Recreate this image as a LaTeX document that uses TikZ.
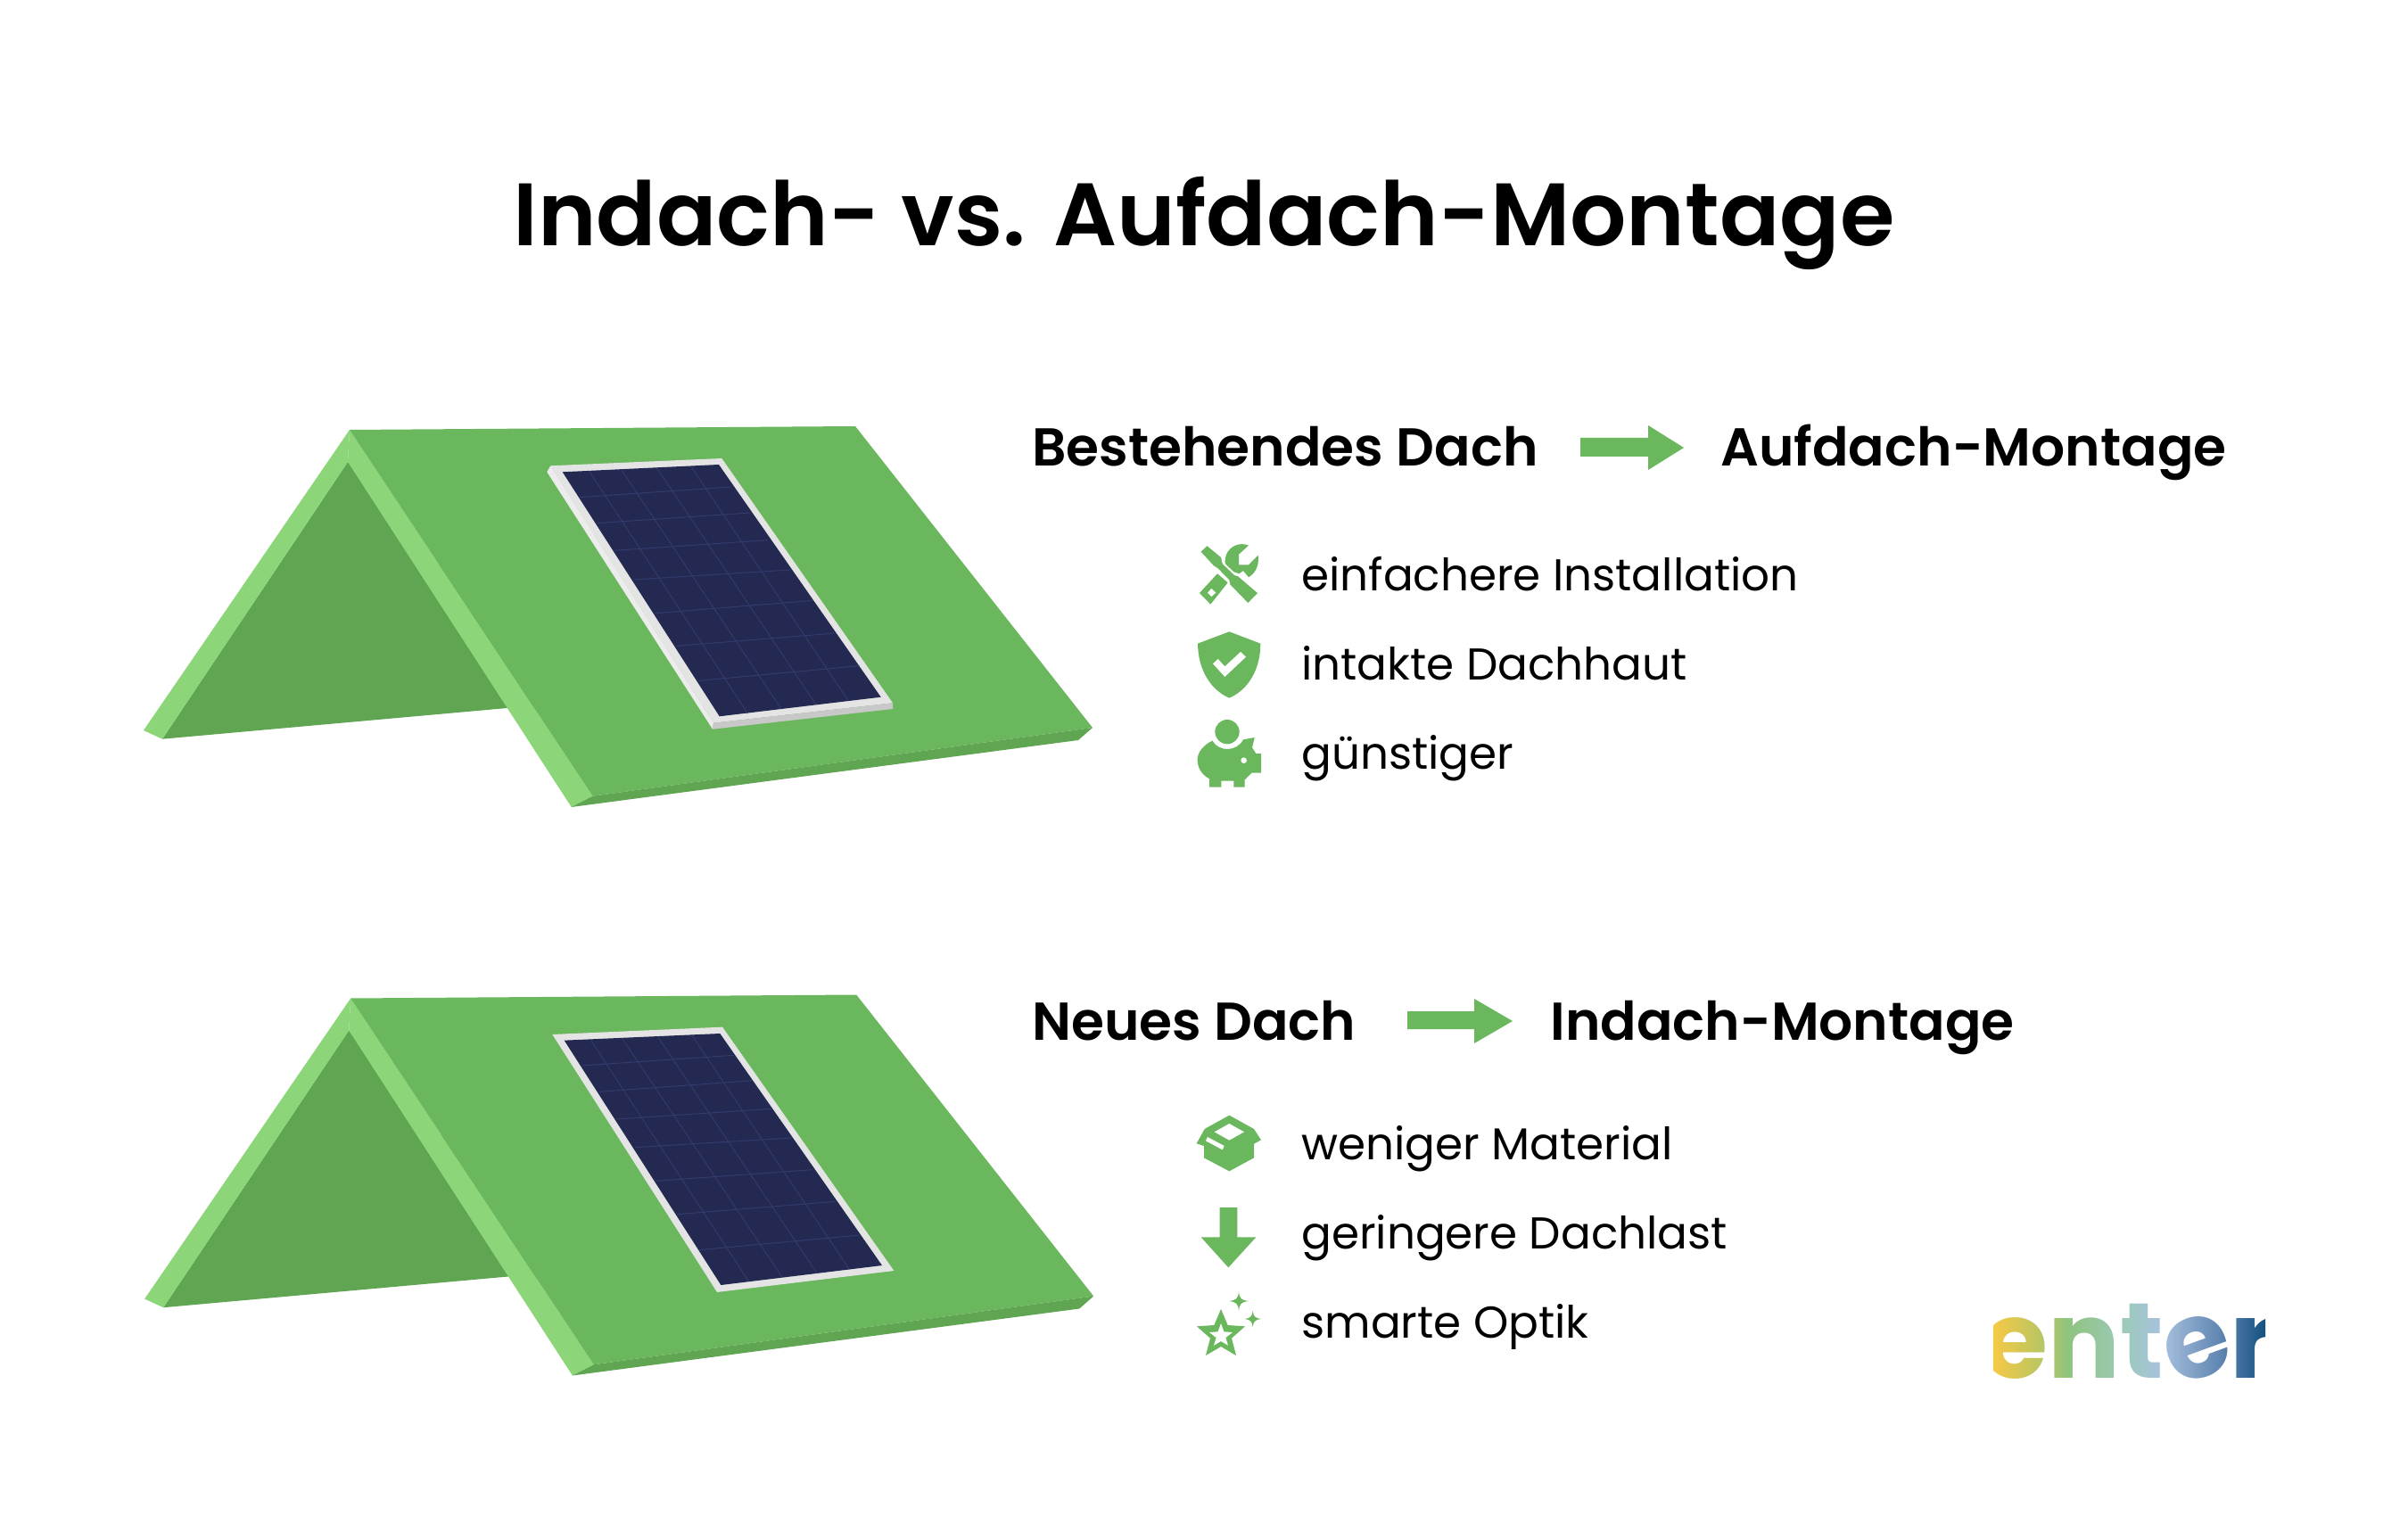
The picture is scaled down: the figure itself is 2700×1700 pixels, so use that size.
\documentclass[tikz,border=0pt]{standalone}
\usepackage{fontspec}
\usetikzlibrary{fadings}
\setmainfont{Poppins}
\newfontfamily\semib{Poppins SemiBold}
\newfontfamily\logob{Poppins Bold}
\definecolor{gmain}{HTML}{6BB75D}
\definecolor{glight}{HTML}{8CD679}
\definecolor{gdark}{HTML}{60A552}
\definecolor{pblue}{HTML}{232950}
\definecolor{pgrid}{HTML}{333B6C}
\definecolor{fr}{HTML}{E4E4E4}
\definecolor{frl}{HTML}{ECECEC}
\definecolor{frd}{HTML}{C8C8C8}
\definecolor{la}{HTML}{F6C945}
\definecolor{lb}{HTML}{A9C56A}
\definecolor{lc}{HTML}{8FC47E}
\definecolor{ld}{HTML}{9DC9BF}
\definecolor{le}{HTML}{A8C1DE}
\definecolor{lf}{HTML}{5D84B0}
\definecolor{lg}{HTML}{14517F}
\pgfdeclarehorizontalshading{logograd}{100bp}{
 color(0bp)=(la);color(25bp)=(la);color(36bp)=(lb);color(38.5bp)=(lc);color(50bp)=(ld);color(56bp)=(le);color(67bp)=(lf);color(75bp)=(lg);color(100bp)=(lg)}
\begin{tikzfadingfrompicture}[name=logofade]
\path (-100pt,-60pt) rectangle (100pt,60pt);
\node[transparent!0,anchor=base,inner sep=0,font=\fontsize{60}{60}\selectfont\logob] at (0,0) {ent\makebox[0.62em][c]{\rotatebox[origin=c]{20}{e}}r};
\end{tikzfadingfrompicture}
\tikzset{
 title/.style={anchor=base west,inner sep=0,font=\fontsize{49.7}{50}\selectfont\semib},
 head/.style={anchor=base west,inner sep=0,font=\fontsize{29.9}{30}\selectfont\semib},
 item/.style={anchor=base west,inner sep=0,font=\fontsize{25}{25}\selectfont},
 ic/.style={fill=gmain,draw=none},
 hole/.style={fill=white,draw=none},
 gridl/.style={draw=pgrid,line width=0.5pt},
 roofback/.style={fill=gdark},
 rooflight/.style={fill=glight},
 roofmain/.style={fill=gmain},
}
\begin{document}
\begin{tikzpicture}[x=0.5pt,y=-0.5pt]
\useasboundingbox (0,0) rectangle (2700,1700);
\fill[white] (0,0) rectangle (2700,1700);
\node[title] (t) at (575,275.5) {Indach- vs. Aufdach-Montage};
% roof 1
\fill[roofback] (390,518)--(182,828.7)--(568.6,794)--(640,800)--cycle;
\fill[rooflight] (392,482)--(161,819)--(182,828.7)--(390,518)--cycle;
\fill[rooflight] (392,482)--(390,518)--(640.7,905)--(664.6,892.7)--cycle;
\fill[roofmain] (392,482)--(959,478)--(1225,816)--(664.6,892.7)--cycle;
\fill[roofback] (664.6,892.7)--(1225,816)--(1209,830)--(640.7,905)--cycle;
% panel 1
\fill[fr] (617.3,522.3)--(809.3,514)--(1001,788.3)--(800,810.7)--cycle;
\fill[frl] (617.3,522.3)--(613.3,529.3)--(799,817.7)--(800,810.7)--cycle;
\fill[frd] (800,810.7)--(1001,788.3)--(1001,795)--(799,817.7)--cycle;
\fill[pblue] (630.7,529.3)--(806,521)--(987.7,781.7)--(806.7,803.3)--cycle;
\begin{scope}[shift={(590,490)},x=0.16667pt,y=-0.16667pt]
\foreach \a/\b/\c/\d in {180/203/690/168,238/290/752/255,296/382/812/347,362/480/888/447,435/593/965/550,507/703/1040/660,580/820/1120/770,212/115/745/930,320/110/858/915,440/105/975/900,555/100/1082/885}
 \draw[gridl] (\a,\b)--(\c,\d);
\end{scope}
% roof 2
\begin{scope}[shift={(1.2,637.5)}]
\fill[roofback] (390,518)--(182,828.7)--(568.6,794)--(640,800)--cycle;
\fill[rooflight] (392,482)--(161,819)--(182,828.7)--(390,518)--cycle;
\fill[rooflight] (392,482)--(390,518)--(640.7,905)--(664.6,892.7)--cycle;
\fill[roofmain] (392,482)--(959,478)--(1225,816)--(664.6,892.7)--cycle;
\fill[roofback] (664.6,892.7)--(1225,816)--(1209,830)--(640.7,905)--cycle;
\end{scope}
% panel 2
\begin{scope}[shift={(590,1130)},x=0.16667pt,y=-0.16667pt]
\fill[fr] (88,90)--(660,65)--(1237,885)--(642,957)--cycle;
\fill[pblue] (128,110)--(652,87)--(1197,867)--(655,933)--cycle;
\foreach \a/\b/\c/\d in {187/195/697/160,245/283/760/245,303/375/825/340,365/470/893/438,435/583/965/545,507/695/1040/652,582/815/1122/765,218/110/748/920,323/103/860/905,442/97/978/893,557/92/1087/880}
 \draw[gridl] (\a,\b)--(\c,\d);
\end{scope}
% headings
\node[head] (h1) at (1157,523) {Bestehendes Dach};
\node[head] (h2) at (1929,523) {Aufdach-Montage};
\node[head] (h3) at (1157,1166) {Neues Dach};
\node[head] (h4) at (1738,1166) {Indach-Montage};
\fill[gmain] (1772,491)--(1848,491)--(1848,477)--(1888,502)--(1848,527)--(1848,512)--(1772,512)--cycle;
\fill[gmain] (1578,1134)--(1653,1134)--(1653,1120)--(1696,1145)--(1653,1170)--(1653,1154)--(1578,1154)--cycle;
% items
\node[item] (i1) at (1459,662.5) {einfachere Installation};
\node[item] (i2) at (1459,762.5) {intakte Dachhaut};
\node[item] (i3) at (1459,862) {günstiger};
\node[item] (i4) at (1459,1300) {weniger Material};
\node[item] (i5) at (1459,1400) {geringere Dachlast};
\node[item] (i6) at (1459,1500) {smarte Optik};
% icons 1
\begin{scope}[shift={(1320,590)},x=0.16667pt,y=-0.16667pt]
\fill[ic] (240,65) arc[start angle=293,end angle=150,radius=57] --(208,160) -- (222,150) -- (240,172) .. controls (260,160) and (277,135) .. (272,98) -- (240,130) -- (207,130) -- (207,95) --cycle;
\fill[ic] (135,160)--(170,190)--(112,263)--(75,225)--cycle;
\fill[hole] (115,210)--(130,224)--(115,237)--(102,224)--cycle;
\draw[fill=gmain,draw=white,line width=1pt] (75,86)--(100,62)--(150,103)--(155,125)--(195,163)--(205,165)--(275,225)--(238,263)--(175,198)--(172,183)--(135,145)--(120,135)--cycle;
\fill[ic] (175,355)--(280,395) .. controls (280,480) and (240,550) .. (175,578) .. controls (110,550) and (70,480) .. (69,395) --cycle;
\fill[hole] (120,463)--(137,447)--(160,472)--(213,423)--(231,440)--(160,507)--cycle;
\fill[ic] (168,692) circle[radius=41];
\fill[ic] (118,722) .. controls (140,760) and (200,760) .. (222,718) -- (260,711) -- (252,745) -- (265,765) -- (282,765) -- (282,830) -- (250,830) -- (227,853) -- (227,878) -- (190,878) -- (190,857) -- (148,857) -- (148,878) -- (108,878) -- (108,850) .. controls (80,835) and (68,810) .. (68,785) .. controls (68,760) and (90,735) .. (118,722) -- cycle;
\fill[hole] (224,788) circle[radius=10];
\end{scope}
% icons 2
\begin{scope}[shift={(1320,1230)},x=0.16667pt,y=-0.16667pt]
\fill[ic] (175,62)--(258,108)--(282,145)--(258,158)--(258,205)--(175,250)--(90,205)--(90,165)--(65,157)--(92,108)--cycle;
\fill[hole] (175,90)--(225,118)--(175,146)--(125,118)--cycle;
\fill[hole] (102,135)--(158,165)--(152,178)--(96,148)--cycle;
\fill[ic] (143,372)--(202,372)--(202,472)--(265,472)--(172,574)--(80,472)--(143,472)--cycle;
\fill[ic] (147,714)--(170,768)--(228,772)--(183,812)--(198,870)--(147,840)--(96,870)--(111,812)--(66,772)--(124,768)--cycle;
\fill[hole] (147,762)--(157,790)--(186,792)--(163,810)--(171,836)--(147,822)--(123,836)--(131,810)--(108,792)--(137,790)--cycle;
\fill[ic] (207,655) .. controls (209,678) and (215,684) .. (240,687) .. controls (215,690) and (209,696) .. (207,720) .. controls (205,696) and (199,690) .. (174,687) .. controls (199,684) and (205,678) .. (207,655) --cycle;
\fill[ic] (254,720) .. controls (256,738) and (262,745) .. (282,747) .. controls (262,749) and (256,756) .. (254,774) .. controls (252,756) and (246,749) .. (227,747) .. controls (246,745) and (252,738) .. (254,720) --cycle;
\end{scope}
% logo
\shade[shading=logograd,path fading=logofade,fit fading=false,fading transform={xshift=1193.75pt,yshift=-772.5pt}] (2235,1440) rectangle (2540,1570);
\end{tikzpicture}
\end{document}
